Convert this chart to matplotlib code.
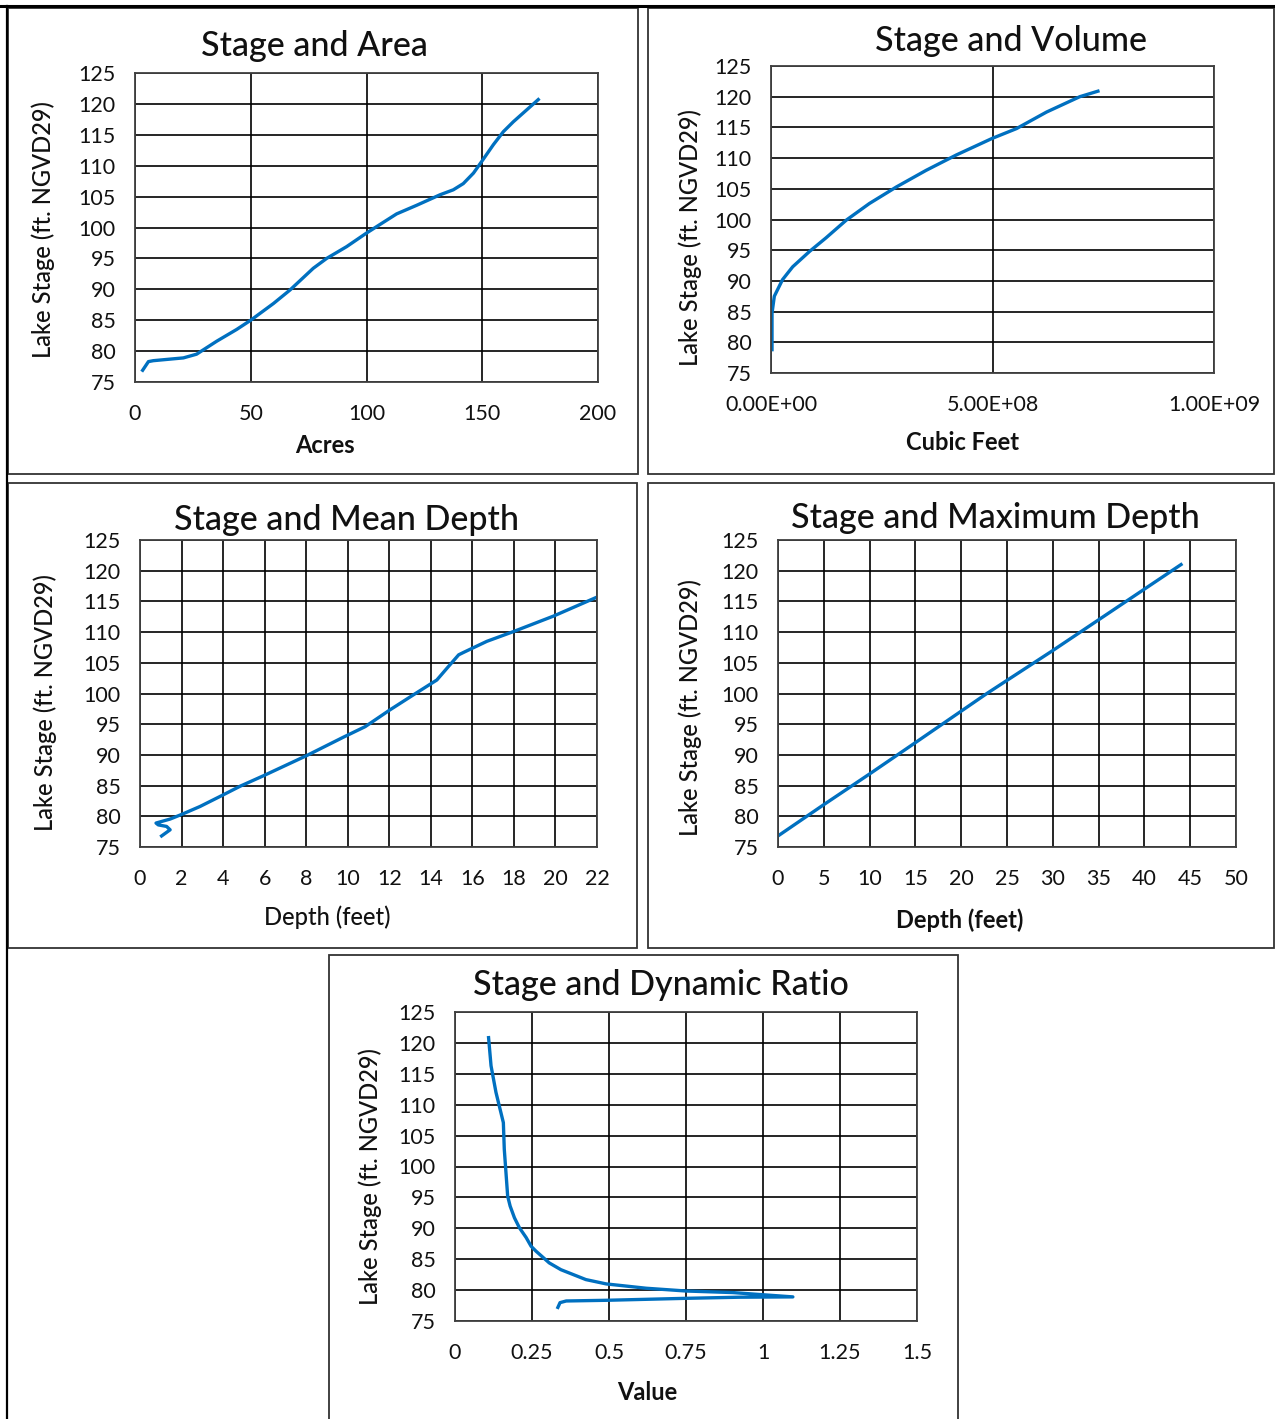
import matplotlib
matplotlib.use("Agg")
import matplotlib.pyplot as plt
from matplotlib.patches import Rectangle
from matplotlib.lines import Line2D
from matplotlib.ticker import FixedLocator, FuncFormatter

plt.rcParams['font.family'] = ['Lato', 'DejaVu Sans']

# ---- Stage / Area ----
area_acres = [3.3, 5.8, 7.9, 15.1, 20.9, 26.6, 35.3, 43.9, 50.0, 59.8, 67.0, 77.0,
              82.8, 91.4, 100.0, 113.0, 121.7, 131.8, 137.5, 141.8, 146.2, 149.8,
              154.8, 159.1, 163.4, 174.2]
area_stage = [76.9, 78.3, 78.45, 78.7, 78.9, 79.5, 81.6, 83.5, 85.0, 87.7, 89.9, 93.4,
              95.0, 96.9, 99.1, 102.2, 103.6, 105.3, 106.1, 107.1, 108.8, 110.7,
              113.4, 115.5, 117.1, 120.7]

# ---- Stage / Volume ----
volume_cuft = [2.3e6, 2.3e6, 7.5e6, 1.5e7, 2.6e7, 3.8e7, 4.9e7, 8.7e7, 1.24e8, 1.70e8,
               2.22e8, 2.83e8, 3.50e8, 4.18e8, 4.99e8, 5.54e8, 6.22e8, 6.97e8, 7.38e8]
volume_stage = [78.8, 84.75, 87.5, 88.6, 90.2, 91.3, 92.3, 94.8, 97.0, 99.9,
                102.6, 105.3, 108.0, 110.5, 113.2, 114.8, 117.5, 120.0, 120.9]

# ---- Stage / Mean depth ----
mean_depth_ft = [1.04, 1.45, 1.28, 0.88, 0.77, 1.45, 2.0, 2.89, 4.01, 4.82, 5.94, 8.03,
                 9.8, 10.84, 12.04, 13.17, 14.29, 14.85, 15.34, 15.58, 16.7, 17.99,
                 19.9, 22.0]
mean_depth_stage = [76.8, 77.8, 78.35, 78.6, 78.9, 79.55, 80.3, 81.6, 83.5, 84.9, 86.6, 89.9,
                    92.9, 94.6, 97.35, 99.8, 102.2, 104.4, 106.3, 106.7, 108.5, 110.1,
                    112.6, 115.7]

# ---- Stage / Maximum depth ----
max_depth_ft = [0.0, 5.0, 10.1, 15.0, 22.8, 30.0, 35.6, 40.0, 44.0]
max_depth_stage = [76.8, 81.9, 87.0, 92.0, 100.0, 107.0, 112.6, 117.0, 121.0]

# ---- Stage / Dynamic ratio ----
dyn_ratio = [0.334, 0.341, 0.361, 0.491, 0.751, 0.924, 1.097, 0.902, 0.751, 0.621,
             0.491, 0.425, 0.382, 0.344, 0.306, 0.263, 0.247, 0.231, 0.209, 0.193,
             0.179, 0.171, 0.160, 0.157, 0.133, 0.117, 0.109]
dyn_stage = [77.2, 77.97, 78.24, 78.35, 78.67, 78.85, 78.9, 79.6, 79.85, 80.3,
             81.0, 81.7, 82.55, 83.3, 84.4, 86.3, 87.1, 88.5, 90.1, 91.7,
             93.6, 95.2, 102.8, 107.1, 112.0, 116.3, 120.85]

stage_ticks = list(range(75, 130, 5))

W, H = 1275, 1419
fig = plt.figure(figsize=(W / 100, H / 100), dpi=100)
fig.patch.set_facecolor('white')

LINE_COLOR = '#0070C0'
TEXT_COLOR = '#111111'
TICK_FS = 15.5
LABEL_FS = 17
TITLE_FS = 24.5


def fx(x):
    return x / W


def fy(y):
    return 1 - y / H


def add_axes_px(x0, y0, x1, y1):
    return fig.add_axes([fx(x0), fy(y1), fx(x1) - fx(x0), (y1 - y0) / H])


def style(ax, xticks, xfmt=None):
    ax.set_ylim(75, 125)
    ax.set_xlim(xticks[0], xticks[-1])
    ax.yaxis.set_major_locator(FixedLocator(stage_ticks))
    ax.xaxis.set_major_locator(FixedLocator(xticks))
    if xfmt is not None:
        ax.xaxis.set_major_formatter(FuncFormatter(xfmt))
    ax.grid(True, color='black', linewidth=1.2)
    ax.set_axisbelow(True)
    for s in ax.spines.values():
        s.set_color('#404040')
        s.set_linewidth(1.3)
    ax.tick_params(axis='both', length=0, labelsize=TICK_FS, colors=TEXT_COLOR)
    ax.tick_params(axis='x', pad=16)
    ax.tick_params(axis='y', pad=14)


def panel_text(x, y, s, size, weight='medium', rot=0):
    fig.text(fx(x), fy(y), s, fontsize=size, fontweight=weight, rotation=rot,
             ha='center', va='center', color=TEXT_COLOR)


def int_fmt(v, _):
    return f"{v:g}"


# Panel frames
frames = [(8, 8, 638, 474), (648, 8, 1274, 474), (8, 483, 637, 948),
          (648, 483, 1274, 948), (329, 955, 958, 1425)]
for (x0, y0, x1, y1) in frames:
    fig.add_artist(Rectangle((fx(x0), fy(y1)), fx(x1) - fx(x0), (y1 - y0) / H,
                             transform=fig.transFigure, fill=False,
                             edgecolor='#333333', linewidth=1.3))
fig.add_artist(Line2D([0, 1], [fy(6), fy(6)], transform=fig.transFigure,
                      color='black', linewidth=2.2))
fig.add_artist(Line2D([fx(7), fx(7)], [0, fy(6)], transform=fig.transFigure,
                      color='black', linewidth=1.6))

# 1. Area
ax1 = add_axes_px(135, 73, 598, 382)
ax1.plot(area_acres, area_stage, color=LINE_COLOR, linewidth=2.4)
style(ax1, [0, 50, 100, 150, 200], int_fmt)
panel_text(314, 46, 'Stage and Area', TITLE_FS)
panel_text(43, 230, 'Lake Stage (ft. NGVD29)', LABEL_FS, rot=90)
panel_text(325, 446, 'Acres', LABEL_FS, 'bold')

# 2. Volume
ax2 = add_axes_px(771, 66, 1214, 373)
ax2.plot(volume_cuft, volume_stage, color=LINE_COLOR, linewidth=2.4)
style(ax2, [0, 5e8, 1e9], lambda v, _: f"{v:.2E}")
panel_text(1011, 41, 'Stage and Volume', TITLE_FS)
panel_text(690, 238, 'Lake Stage (ft. NGVD29)', LABEL_FS, rot=90)
panel_text(963, 443, 'Cubic Feet', LABEL_FS, 'bold')

# 3. Mean depth
ax3 = add_axes_px(140, 540, 597, 847)
ax3.plot(mean_depth_ft, mean_depth_stage, color=LINE_COLOR, linewidth=2.4)
style(ax3, list(range(0, 24, 2)), int_fmt)
panel_text(346, 520, 'Stage and Mean Depth', TITLE_FS)
panel_text(45, 703, 'Lake Stage (ft. NGVD29)', LABEL_FS, rot=90)
panel_text(327, 917, 'Depth (feet)', LABEL_FS)

# 4. Maximum depth
ax4 = add_axes_px(778, 540, 1236, 847)
ax4.plot(max_depth_ft, max_depth_stage, color=LINE_COLOR, linewidth=2.4)
style(ax4, list(range(0, 55, 5)), int_fmt)
panel_text(995, 518, 'Stage and Maximum Depth', TITLE_FS)
panel_text(690, 708, 'Lake Stage (ft. NGVD29)', LABEL_FS, rot=90)
panel_text(960, 920, 'Depth (feet)', LABEL_FS, 'bold')

# 5. Dynamic ratio
ax5 = add_axes_px(455, 1012, 917, 1321)
ax5.plot(dyn_ratio, dyn_stage, color=LINE_COLOR, linewidth=2.4)
style(ax5, [0, 0.25, 0.5, 0.75, 1.0, 1.25, 1.5], int_fmt)
panel_text(661, 985, 'Stage and Dynamic Ratio', TITLE_FS)
panel_text(370, 1177, 'Lake Stage (ft. NGVD29)', LABEL_FS, rot=90)
panel_text(647, 1392, 'Value', LABEL_FS, 'bold')

fig.savefig('out.png', dpi=100)
